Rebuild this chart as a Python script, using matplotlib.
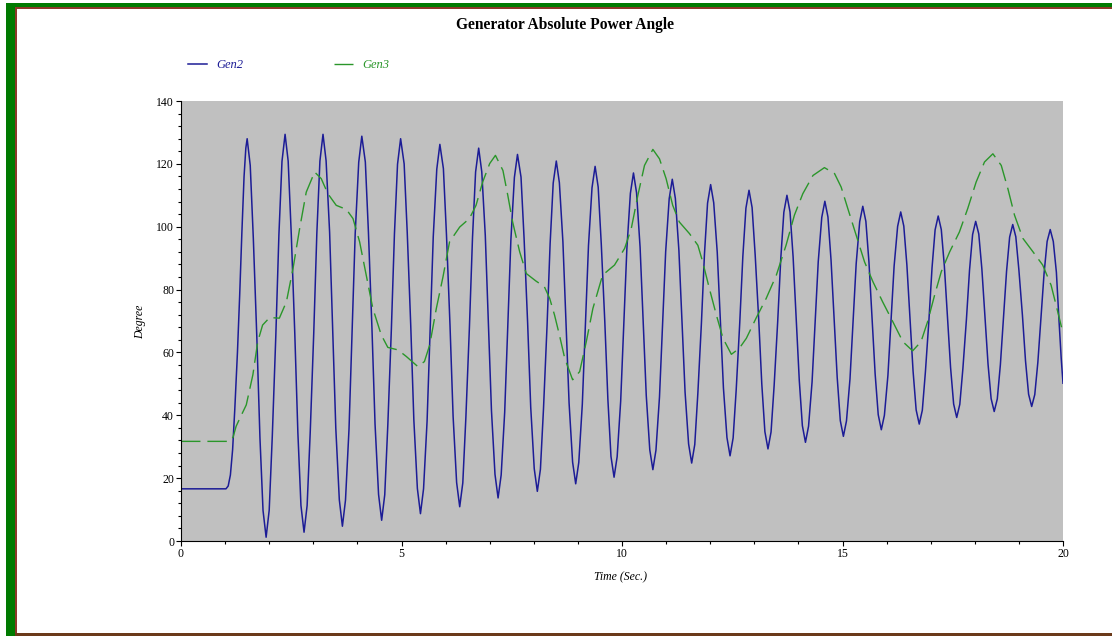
import matplotlib
matplotlib.use("Agg")
import matplotlib.pyplot as plt
from matplotlib.patches import Rectangle
from matplotlib.ticker import MultipleLocator

plt.rcParams['font.family'] = ['Liberation Serif', 'DejaVu Serif']

# Gen2 absolute power angle (deg), one row per half swing
gen2_time = [
    0.00, 1.02, 1.07, 1.12, 1.17, 1.22, 1.28, 1.33, 1.38, 1.43, 1.47, 1.50,
    1.57, 1.64, 1.72, 1.79, 1.86, 1.93,
    2.00, 2.07, 2.15, 2.22, 2.29, 2.36,
    2.43, 2.50, 2.58, 2.65, 2.72, 2.79,
    2.86, 2.93, 3.01, 3.08, 3.15, 3.22,
    3.29, 3.37, 3.44, 3.51, 3.59, 3.66,
    3.73, 3.81, 3.88, 3.95, 4.03, 4.10,
    4.18, 4.25, 4.33, 4.40, 4.48, 4.55,
    4.62, 4.69, 4.77, 4.84, 4.91, 4.98,
    5.06, 5.13, 5.21, 5.28, 5.36, 5.43,
    5.50, 5.58, 5.65, 5.72, 5.80, 5.87,
    5.95, 6.02, 6.10, 6.17, 6.25, 6.32,
    6.39, 6.46, 6.54, 6.61, 6.68, 6.75,
    6.82, 6.90, 6.97, 7.04, 7.12, 7.19,
    7.26, 7.34, 7.41, 7.48, 7.56, 7.63,
    7.71, 7.78, 7.86, 7.93, 8.01, 8.08,
    8.15, 8.22, 8.30, 8.37, 8.44, 8.51,
    8.58, 8.66, 8.73, 8.80, 8.88, 8.95,
    9.02, 9.10, 9.17, 9.24, 9.32, 9.39,
    9.46, 9.53, 9.61, 9.68, 9.75, 9.82,
    9.89, 9.97, 10.04, 10.11, 10.19, 10.26,
    10.33, 10.41, 10.48, 10.55, 10.63, 10.70,
    10.77, 10.85, 10.92, 10.99, 11.07, 11.14,
    11.21, 11.29, 11.36, 11.43, 11.51, 11.58,
    11.65, 11.72, 11.80, 11.87, 11.94, 12.01,
    12.08, 12.16, 12.23, 12.30, 12.38, 12.45,
    12.52, 12.59, 12.67, 12.74, 12.81, 12.88,
    12.95, 13.02, 13.10, 13.17, 13.24, 13.31,
    13.38, 13.45, 13.53, 13.60, 13.67, 13.74,
    13.81, 13.88, 13.95, 14.02, 14.09, 14.16,
    14.23, 14.31, 14.38, 14.45, 14.53, 14.60,
    14.67, 14.74, 14.81, 14.88, 14.95, 15.02,
    15.09, 15.17, 15.24, 15.31, 15.39, 15.46,
    15.53, 15.60, 15.67, 15.74, 15.81, 15.88,
    15.95, 16.03, 16.10, 16.17, 16.25, 16.32,
    16.39, 16.46, 16.53, 16.60, 16.67, 16.74,
    16.81, 16.88, 16.96, 17.03, 17.10, 17.17,
    17.24, 17.31, 17.38, 17.45, 17.52, 17.59,
    17.66, 17.73, 17.81, 17.88, 17.95, 18.02,
    18.09, 18.16, 18.23, 18.30, 18.37, 18.44,
    18.51, 18.58, 18.65, 18.72, 18.79, 18.86,
    18.93, 19.00, 19.08, 19.15, 19.22, 19.29,
    19.36, 19.43, 19.50, 19.57, 19.64, 19.71,
    19.78, 19.85, 19.91, 19.96, 20.00,
]
gen2_angle = [
    16.6, 16.6, 17.5, 21.0, 29.0, 42.0, 60.0, 78.0, 98.0, 116.0, 125.0, 128.0,
    119.5, 96.3, 64.6, 32.9, 9.7, 1.2,
    9.8, 33.3, 65.3, 97.4, 120.8, 129.4,
    120.9, 97.8, 66.1, 34.5, 11.3, 2.8,
    11.3, 34.5, 66.1, 97.8, 120.9, 129.4,
    121.0, 98.2, 67.1, 35.9, 13.1, 4.7,
    13.0, 35.7, 66.8, 97.8, 120.5, 128.8,
    120.6, 98.3, 67.7, 37.2, 14.8, 6.6,
    14.7, 37.0, 67.3, 97.7, 119.9, 128.0,
    120.0, 98.2, 68.4, 38.5, 16.7, 8.7,
    16.6, 38.1, 67.5, 96.8, 118.3, 126.2,
    118.5, 97.4, 68.6, 39.7, 18.6, 10.9,
    18.5, 39.4, 68.0, 96.5, 117.4, 125.0,
    117.5, 97.2, 69.4, 41.5, 21.2, 13.7,
    21.0, 41.0, 68.4, 95.7, 115.7, 123.0,
    115.8, 96.2, 69.4, 42.6, 23.0, 15.8,
    22.8, 42.1, 68.4, 94.6, 113.9, 120.9,
    114.0, 95.2, 69.6, 43.9, 25.1, 18.2,
    25.0, 43.5, 68.7, 94.0, 112.4, 119.2,
    112.6, 94.5, 69.8, 45.0, 26.9, 20.3,
    26.8, 44.5, 68.7, 92.9, 110.6, 117.1,
    110.8, 93.5, 69.9, 46.3, 29.0, 22.7,
    28.9, 45.8, 68.9, 92.0, 108.9, 115.1,
    109.0, 92.5, 70.0, 47.4, 30.9, 24.8,
    30.7, 47.0, 69.1, 91.3, 107.5, 113.4,
    107.6, 91.8, 70.3, 48.7, 32.9, 27.1,
    32.8, 48.2, 69.4, 90.5, 105.9, 111.6,
    106.1, 91.0, 70.5, 49.9, 34.8, 29.3,
    34.7, 49.5, 69.7, 89.8, 104.6, 110.0,
    104.7, 90.4, 70.7, 51.1, 36.7, 31.4,
    36.5, 50.6, 69.8, 88.9, 103.0, 108.1,
    103.1, 89.4, 70.7, 52.0, 38.3, 33.3,
    38.2, 51.6, 69.9, 88.2, 101.6, 106.5,
    101.7, 88.7, 71.0, 53.2, 40.2, 35.4,
    40.0, 52.7, 70.1, 87.4, 100.1, 104.7,
    100.2, 87.8, 71.0, 54.1, 41.7, 37.2,
    41.6, 53.8, 70.3, 86.9, 99.0, 103.4,
    99.1, 87.4, 71.4, 55.3, 43.6, 39.3,
    43.5, 54.9, 70.5, 86.1, 97.5, 101.7,
    97.7, 86.6, 71.5, 56.3, 45.3, 41.2,
    45.2, 56.1, 71.0, 85.8, 96.7, 100.7,
    96.8, 86.2, 71.8, 57.3, 46.7, 42.8,
    46.6, 56.9, 71.0, 85.0, 95.3, 99.1,
    95.3, 85.5, 70.0, 58.0, 50.2,
]

# Gen3 absolute power angle (deg)
gen3_time = [
    0.00, 1.10, 1.18, 1.25, 1.35, 1.48, 1.63, 1.74, 1.85, 2.01,
    2.23, 2.39, 2.54, 2.69, 2.84, 3.03, 3.18, 3.33, 3.52, 3.75,
    3.90, 4.05, 4.20, 4.35, 4.54, 4.69, 4.92, 5.11, 5.37, 5.52,
    5.64, 5.79, 5.94, 6.09, 6.32, 6.54, 6.69, 6.84, 7.00, 7.13,
    7.30, 7.41, 7.52, 7.68, 7.83, 8.05, 8.24, 8.36, 8.47, 8.58,
    8.70, 8.88, 9.04, 9.19, 9.34, 9.56, 9.83, 10.06, 10.21, 10.36,
    10.51, 10.70, 10.85, 11.00, 11.15, 11.30, 11.53, 11.72, 11.83, 11.98,
    12.14, 12.29, 12.48, 12.66, 12.82, 13.04, 13.27, 13.50, 13.72, 13.91,
    14.10, 14.33, 14.59, 14.82, 14.97, 15.12, 15.31, 15.50, 15.69, 15.91,
    16.14, 16.37, 16.59, 16.78, 16.93, 17.09, 17.24, 17.43, 17.65, 17.84,
    18.03, 18.22, 18.41, 18.60, 18.75, 18.90, 19.09, 19.32, 19.54, 19.73,
    19.88, 20.00,
]
gen3_angle = [
    31.7, 31.7, 33.0, 36.5, 39.5, 43.3, 52.9, 63.4, 68.7, 71.1,
    70.9, 76.1, 86.7, 99.4, 111.0, 117.4, 115.3, 110.5, 106.8, 105.5,
    102.6, 95.2, 84.6, 74.0, 65.6, 61.6, 60.8, 58.7, 55.5, 57.1,
    62.4, 74.0, 84.0, 95.2, 99.9, 102.6, 106.8, 114.2, 120.1, 122.7,
    117.9, 110.0, 101.5, 92.0, 85.1, 82.7, 80.9, 77.2, 71.9, 65.6,
    58.2, 51.3, 53.9, 63.4, 74.0, 84.6, 87.8, 93.1, 99.4, 110.0,
    119.5, 124.6, 121.6, 115.3, 106.8, 101.5, 97.8, 94.1, 88.8, 80.4,
    71.9, 64.5, 59.4, 61.3, 64.5, 70.9, 77.2, 84.6, 94.1, 103.7,
    110.5, 116.3, 118.8, 116.9, 112.6, 105.8, 97.3, 88.8, 82.5, 76.1,
    69.8, 63.4, 60.5, 63.4, 69.8, 78.3, 85.7, 92.0, 98.3, 105.8,
    114.2, 120.6, 123.2, 119.5, 112.1, 103.7, 96.3, 92.0, 87.8, 81.4,
    73.0, 66.1,
]

W, H = 1112, 636
fig = plt.figure(figsize=(W / 100, H / 100), dpi=100)
fig.patch.set_facecolor('white')

# window frame
fig.add_artist(Rectangle((6 / W, 0), 9 / W, 1 - 3 / H, transform=fig.transFigure,
                         color='#007a00', lw=0))
fig.add_artist(Rectangle((6 / W, 1 - 8 / H), 1, 5 / H, transform=fig.transFigure,
                         color='#007a00', lw=0))
fig.add_artist(Rectangle((15 / W, 0), 1.6 / W, 1 - 7.5 / H, transform=fig.transFigure,
                         color='#8b3a2a', lw=0))
fig.add_artist(Rectangle((15 / W, 1 - 9 / H), 1, 1.6 / H, transform=fig.transFigure,
                         color='#8b3a2a', lw=0))
fig.add_artist(Rectangle((15 / W, 0), 1, 3.5 / H, transform=fig.transFigure,
                         color='#6b3a1a', lw=0))

ax = fig.add_axes([181 / W, 95 / H, 882 / W, 440 / H])
ax.set_facecolor('#c0c0c0')

ax.plot(gen2_time, gen2_angle, color='#1c1c96', lw=1.1, label='Gen2')
ax.plot(gen3_time, gen3_angle, color='#2a962a', lw=1.0, dashes=(14, 5), label='Gen3')

ax.set_xlim(0, 20)
ax.set_ylim(0, 140)
ax.xaxis.set_major_locator(MultipleLocator(5))
ax.xaxis.set_minor_locator(MultipleLocator(1))
ax.yaxis.set_major_locator(MultipleLocator(20))
ax.yaxis.set_minor_locator(MultipleLocator(4))
ax.tick_params(which='major', direction='out', length=3.5, width=0.8, labelsize=8.5, pad=1.5)
ax.tick_params(which='minor', direction='out', length=2.0, width=0.8)
for s in ['top', 'right']:
    ax.spines[s].set_visible(False)
for s in ['left', 'bottom']:
    ax.spines[s].set_linewidth(0.8)

fig.text(565 / W, 1 - 25 / H, 'Generator Absolute Power Angle', ha='center', va='center',
         fontsize=11.2, fontweight='bold')
fig.text(620 / W, 1 - 577 / H, 'Time (Sec.)', ha='center', va='center',
         fontsize=8.5, style='italic')
fig.text(140 / W, 1 - 322 / H, 'Degree', ha='center', va='center', rotation=90,
         fontsize=8.5, style='italic')

leg = ax.legend(loc='upper left', bbox_to_anchor=(188 / W, 1 - 59 / H),
                bbox_transform=fig.transFigure, ncol=2, frameon=False,
                handlelength=1.5, handletextpad=0.8,
                columnspacing=7.2, borderpad=0, borderaxespad=0,
                prop={'style': 'italic', 'size': 9})
leg.get_texts()[0].set_color('#1c1c96')
leg.get_texts()[1].set_color('#2a962a')

fig.savefig('out.png', dpi=100)
